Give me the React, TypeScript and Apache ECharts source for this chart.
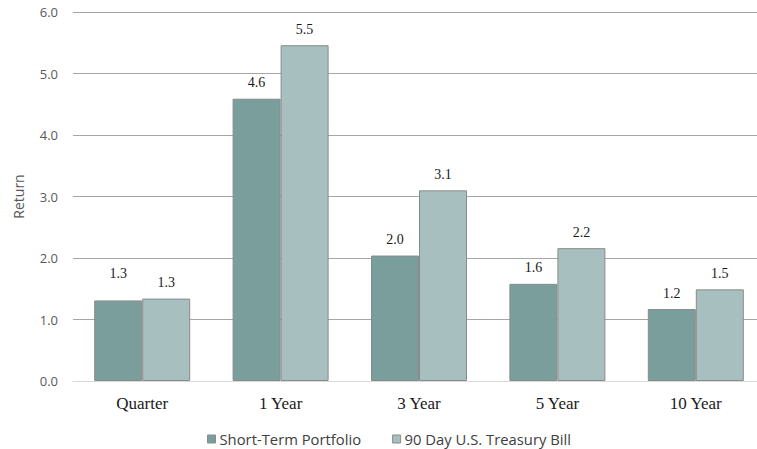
import React, { useEffect, useRef } from "react";
import * as echarts from "echarts";

const categories = ["Quarter", "1 Year", "3 Year", "5 Year", "10 Year"];
const shortTermPortfolio = [1.31, 4.59, 2.04, 1.58, 1.17];
const treasuryBill = [1.34, 5.46, 3.1, 2.16, 1.49];
const seriesNames = ["Short-Term Portfolio", "90 Day U.S. Treasury Bill"];
const yTicks = { min: 0, max: 6, interval: 1 };

export default function App() {
  const ref = useRef<HTMLDivElement>(null);
  useEffect(() => {
    if (!ref.current) return;
    const chart = echarts.init(ref.current, null, { renderer: "svg" });
    const labelBase = {
      show: true,
      position: "top" as const,
      distance: 9,
      fontFamily: "Liberation Serif",
      fontSize: 14,
      color: "#1a1a1a",
      formatter: (p: any) => Number(p.value).toFixed(1),
    };
    chart.setOption({
      animation: false,
      backgroundColor: "#fff",
      grid: { left: 73, width: 692, top: 12, height: 369, containLabel: false },
      legend: {
        top: 430,
        left: 207,
        padding: 0,
        icon: "rect",
        itemWidth: 8,
        itemHeight: 8,
        itemGap: 31,
        itemStyle: { borderColor: "#8a8a8a", borderWidth: 1 },
        textStyle: {
          fontFamily: "Open Sans",
          fontSize: 14.8,
          lineHeight: 18,
          color: "#404040",
          padding: [0, 0, 0, -1],
        },
        data: seriesNames,
      },
      xAxis: {
        type: "category",
        data: categories,
        axisTick: { show: false },
        axisLine: { lineStyle: { color: "#d9d9d9", width: 1 } },
        axisLabel: { fontFamily: "Liberation Serif", fontSize: 17, color: "#1a1a1a", margin: 14 },
      },
      yAxis: {
        type: "value",
        min: yTicks.min,
        max: yTicks.max,
        interval: yTicks.interval,
        name: "Return",
        nameLocation: "middle",
        nameGap: 48,
        nameTextStyle: { fontFamily: "Open Sans", fontSize: 14, color: "#595959" },
        axisLabel: {
          fontFamily: "Open Sans",
          fontSize: 13,
          color: "#595959",
          margin: 15,
          formatter: (v: number) => v.toFixed(1),
        },
        splitLine: { lineStyle: { color: "#a6a6a6", width: 1 } },
        axisLine: { show: false },
        axisTick: { show: false },
      },
      series: [
        {
          name: seriesNames[0],
          type: "bar",
          barWidth: 48,
          barGap: "0%",
          data: shortTermPortfolio.map((v, i) =>
            i === 0 ? { value: v, label: { distance: 20 } } : v
          ),
          itemStyle: { color: "#7a9e9c", borderColor: "#8a8a8a", borderWidth: 1 },
          label: labelBase,
        },
        {
          name: seriesNames[1],
          type: "bar",
          barWidth: 48,
          barGap: "0%",
          data: treasuryBill,
          itemStyle: { color: "#a8bfbf", borderColor: "#8a8a8a", borderWidth: 1 },
          label: labelBase,
        },
      ],
    });
    return () => chart.dispose();
  }, []);
  return (
    <div
      style={{ position: "fixed", left: 0, top: 0, width: 757, height: 449, overflow: "hidden" }}
    >
      <div ref={ref} style={{ width: 765, height: 449 }} />
    </div>
  );
}
